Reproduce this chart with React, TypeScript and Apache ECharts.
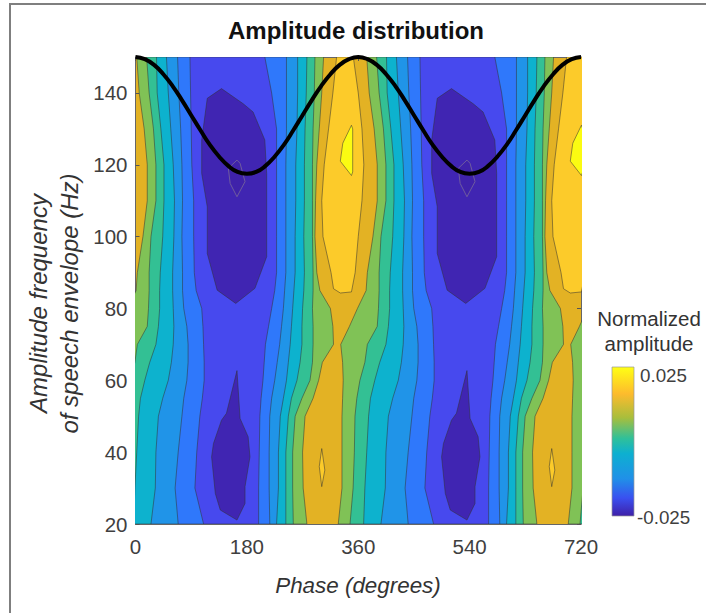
import React, { useEffect, useRef } from "react";
import * as echarts from "echarts";

const freqRows = [150, 140, 130, 120, 110, 100, 90, 85, 80, 75, 70, 65, 60, 55, 50, 40, 30, 20];

// Contour crossings (local phase within one repeat of the pattern) per frequency row
const c76 = [27, 31, 39, 44, 44, 37, 28, 26, 12, -1, -15, -12, -11, -12, -13, -13, -13, -19];
const c65 = [43, 47, 54, 58, 58, 50, 47, 47, 46, 44, 28, 24, 16, 11, 8, 7, 5, 0];
const c54 = [59, 60, 66, 71, 71, 69, 65, 64, 64, 62, 58, 48, 40, 33, 30, 27, 24, 22];
const c43 = [75, 78, 82, 86, 88, 87, 85, 85, 86, 87, 86, 83, 78, 69, 62, 58, 57, 50];
const c32 = [93, 95, 98, 100, 101, 100, 101, 101, 103, 108, 110, 110, 108, 103, 100, 94, 89, 94];
const c21 = [113, 114, 115, 116, 119, 119, 120, 123, 132, 134, 135, 136, 136, 133, 129, 124, 121, 135];
const c12 = [234, 245, 253, 253, 253, 253, 253, 250, 245, 240, 235, 233, 231, 228, 226, 225, 224, 224];
const c23 = [269, 269, 269, 268, 268, 268, 268, 266, 264, 261, 258, 254, 250, 245, 242, 241, 241, 242];
const c34 = [287, 287, 286, 284, 284, 283, 283, 281, 279, 277, 275, 272, 269, 264, 259, 256, 256, 253];
const c45 = [302, 301, 299, 298, 298, 297, 298, 297, 295, 294, 294, 291, 286, 277, 272, 268, 268, 268];
const c56 = [315, 314, 312, 311, 311, 311, 312, 312, 311, 312, 312, 311, 307, 294, 283, 279, 279, 280];
const c67 = [329, 326, 322, 318, 316, 315, 318, 323, 340, 344, 345, 327, 321, 312, 299, 295, 296, 302];

// Closed contours, as [phase, frequency]
const plateauHigh = [[350, 150], [344, 140], [337, 130], [330, 120], [326, 110], [328, 100], [341, 90], [345, 85.5], [356, 84.3], [374, 84.6], [380, 90], [385, 100], [391, 110], [394, 120], [391, 130], [385, 140], [377, 150]];
const peakUpper = [[374, 131], [360, 126], [356, 121], [374, 117], [376, 118], [376, 130]];
const peakLower = [[326, 41], [322, 36], [326, 30.4], [331, 35]];
const troughUpper = [[164, 141.2], [141, 138.5], [132, 126.9], [132, 117.6], [141, 108.3], [141, 95.3], [157, 85.1], [187, 81.4], [218, 85.6], [237, 94.4], [237, 117.6], [234, 126.9], [215, 134.7], [199, 137]];
const troughLower = [[189, 62.7], [172, 50.8], [164, 48.9], [151, 42.4], [148, 38.7], [154, 28.5], [162, 23.9], [189, 21.1], [202, 25.7], [202, 30.4], [210, 38.7], [207, 44.3], [194, 49.4]];
const troughCore = [[189, 121.3], [175, 119], [178, 114.8], [189, 111.1], [202, 115.3], [194, 120.4]];

// Where each repeat of the pattern starts on the phase axis
const repeatStarts = [-25, 346.7, 718.4];

// Reference sinusoid
const wavePhase = [0, 15, 30, 45, 60, 75, 90, 105, 120, 135, 150, 165, 180, 195, 210, 225, 240, 255, 270, 285, 300, 315, 330, 345, 360, 375, 390, 405, 420, 435, 450, 465, 480, 495, 510, 525, 540, 555, 570, 585, 600, 615, 630, 645, 660, 675, 690, 705, 720];
const waveFreq = [150, 149.4, 147.8, 145.2, 141.9, 138, 133.8, 129.6, 125.6, 122.3, 119.7, 118, 117.5, 118, 119.7, 122.3, 125.6, 129.6, 133.8, 138, 141.9, 145.2, 147.8, 149.4, 150, 149.4, 147.8, 145.2, 141.9, 138, 133.8, 129.6, 125.6, 122.3, 119.7, 118, 117.5, 118, 119.7, 122.3, 125.6, 129.6, 133.8, 138, 141.9, 145.2, 147.8, 149.4, 150];

const xTicks = [0, 180, 360, 540, 720];
const yTicks = [20, 40, 60, 80, 100, 120, 140];

const LEVELS = {
  l0: "#4025B2",
  l1: "#4749EE",
  l2: "#2F78FB",
  l3: "#2094E8",
  l4: "#0DB2CE",
  l5: "#33C094",
  l6: "#80C256",
  l7: "#E3B224",
  l8: "#FCCB2A",
  l9: "#FBFB12",
};

const FONT = '"Liberation Sans", Arial, sans-serif';

type Poly = { pts: number[][]; fill: string; stroke?: string };

function band(left: number[], right: number[], off: number): number[][] {
  const a = left.map((p, i) => [p + off, freqRows[i]]);
  const b = right.map((p, i) => [p + off, freqRows[i]]).reverse();
  return a.concat(b);
}

function buildPolygons(): Poly[] {
  const out: Poly[] = [];
  const nested: [number[], number[], string][] = [
    [c76, c67, LEVELS.l6],
    [c65, c56, LEVELS.l5],
    [c54, c45, LEVELS.l4],
    [c43, c34, LEVELS.l3],
    [c32, c23, LEVELS.l2],
    [c21, c12, LEVELS.l1],
  ];
  for (const off of repeatStarts) {
    for (const [l, r, fill] of nested) out.push({ pts: band(l, r, off), fill });
    const shift = (list: number[][]) => list.map(([p, f]) => [p + off, f]);
    out.push({ pts: shift(troughUpper), fill: LEVELS.l0 });
    out.push({ pts: shift(troughLower), fill: LEVELS.l0 });
    out.push({ pts: shift(troughCore), fill: "#3F22AA", stroke: "#7a6a9a" });
    out.push({ pts: shift(plateauHigh), fill: LEVELS.l8 });
    out.push({ pts: shift(peakUpper), fill: LEVELS.l9 });
    out.push({ pts: shift(peakLower), fill: LEVELS.l8 });
  }
  return out;
}

export default function App() {
  const ref = useRef<HTMLDivElement>(null);
  useEffect(() => {
    document.body.style.margin = "0";
    const chart = echarts.init(ref.current!, null, { renderer: "svg" });
    const polys = buildPolygons();
    const axisCommon = {
      axisLine: { show: true, onZero: false, lineStyle: { color: "#666", width: 1 } },
      splitLine: { show: false },
      axisTick: { show: true, inside: true, length: 4, lineStyle: { color: "#555" } },
    };
    const labelStyle = { color: "#3f3f3f", fontSize: 20.5, fontFamily: FONT };
    const titleFont = `bold 24px ${FONT}`;
    const axisFont = `italic 22.4px ${FONT}`;
    const yAxisFont = `italic 24px ${FONT}`;
    chart.setOption({
      animation: false,
      backgroundColor: "#ffffff",
      grid: {
        left: 135.5,
        top: 57,
        width: 445.5,
        height: 467,
        show: true,
        backgroundColor: LEVELS.l7,
        borderWidth: 0,
      },
      xAxis: [
        {
          type: "value",
          min: 0,
          max: 720,
          interval: 180,
          position: "bottom",
          ...axisCommon,
          axisLabel: { ...labelStyle, margin: 12, customValues: xTicks },
        },
        {
          type: "value",
          min: 0,
          max: 720,
          interval: 180,
          position: "top",
          ...axisCommon,
          axisLabel: { show: false },
        },
      ],
      yAxis: [
        {
          type: "value",
          min: 20,
          max: 150,
          interval: 20,
          position: "left",
          ...axisCommon,
          axisLabel: { ...labelStyle, margin: 8, customValues: yTicks },
        },
        {
          type: "value",
          min: 20,
          max: 150,
          interval: 20,
          position: "right",
          ...axisCommon,
          axisLabel: { show: false },
        },
      ],
      series: [
        {
          type: "custom",
          coordinateSystem: "cartesian2d",
          clip: true,
          silent: true,
          data: polys.map(() => [0, 20]),
          renderItem: (params: any, api: any) => {
            const p = polys[params.dataIndex];
            return {
              type: "polygon",
              shape: { points: p.pts.map((q) => api.coord(q)) },
              style: {
                fill: p.fill,
                stroke: p.stroke || "rgba(50,50,50,0.65)",
                lineWidth: 0.8,
              },
            };
          },
        },
        {
          type: "line",
          data: wavePhase.map((p, i) => [p, waveFreq[i]]),
          smooth: true,
          symbol: "none",
          clip: false,
          lineStyle: { color: "#000000", width: 4 },
        },
      ],
      graphic: [
        { type: "rect", silent: true, shape: { x: 9, y: 3, width: 2, height: 610 }, style: { fill: "#7f7f7f" } },
        { type: "rect", silent: true, shape: { x: 9, y: 3, width: 697, height: 2 }, style: { fill: "#7f7f7f" } },
        { type: "text", x: 356, y: 30, style: { text: "Amplitude distribution", font: titleFont, fill: "#111", textAlign: "center", textVerticalAlign: "middle" } },
        { type: "text", x: 358, y: 585, style: { text: "Phase (degrees)", font: axisFont, fill: "#333", textAlign: "center", textVerticalAlign: "middle" } },
        { type: "text", x: 54, y: 303.5, rotation: Math.PI / 2, style: { text: "Amplitude frequency\nof speech envelope (Hz)", font: yAxisFont, lineHeight: 31, fill: "#333", textAlign: "center", textVerticalAlign: "middle" } },
        { type: "text", x: 649, y: 318, style: { text: "Normalized", font: `20.5px ${FONT}`, fill: "#333", textAlign: "center", textVerticalAlign: "middle" } },
        { type: "text", x: 649, y: 343, style: { text: "amplitude", font: `20.5px ${FONT}`, fill: "#333", textAlign: "center", textVerticalAlign: "middle" } },
        {
          type: "rect",
          silent: true,
          shape: { x: 612, y: 367, width: 22, height: 149 },
          style: {
            stroke: "#999",
            lineWidth: 0.7,
            fill: new echarts.graphic.LinearGradient(0, 0, 0, 1, [
              { offset: 0, color: "#FFFF14" },
              { offset: 0.18, color: "#FDBB2D" },
              { offset: 0.34, color: "#A8BE3C" },
              { offset: 0.48, color: "#2FC09A" },
              { offset: 0.58, color: "#0DB0D0" },
              { offset: 0.75, color: "#2090E8" },
              { offset: 0.88, color: "#3A50F0" },
              { offset: 1, color: "#3F20A8" },
            ]),
          },
        },
        { type: "text", x: 640, y: 375, style: { text: "0.025", font: `18.8px ${FONT}`, fill: "#3f3f3f", textVerticalAlign: "middle" } },
        { type: "text", x: 637, y: 517, style: { text: "-0.025", font: `18.8px ${FONT}`, fill: "#3f3f3f", textVerticalAlign: "middle" } },
      ],
    });
    return () => chart.dispose();
  }, []);
  return <div ref={ref} style={{ position: "absolute", left: 0, top: 0, width: 706, height: 613 }} />;
}
